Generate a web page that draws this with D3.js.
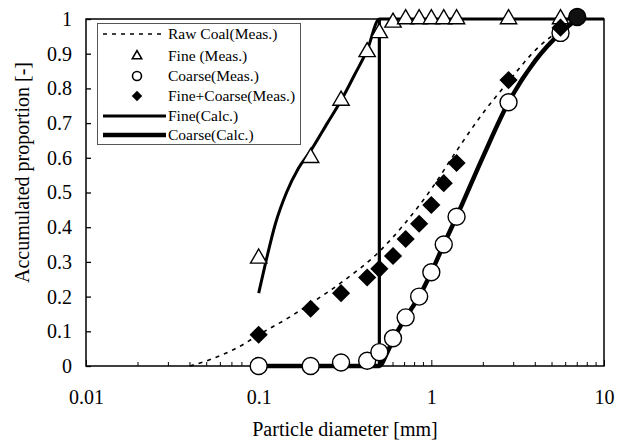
<!DOCTYPE html>
<html>
<head>
<meta charset="utf-8">
<script src="https://cdn.jsdelivr.net/npm/d3@7"></script>
<style>
  body { margin: 0; background: #fff; }
</style>
</head>
<body>
<svg id="chart" width="618" height="448"></svg>
<script>
// Measured and calculated size distributions, [diameter mm, proportion]
const rawCoal = [[0.04, 0.0], [0.05, 0.015], [0.06, 0.03], [0.08, 0.06], [0.1, 0.09], [0.15, 0.14],
  [0.2, 0.18], [0.3, 0.24], [0.5, 0.33], [0.7, 0.41], [1.0, 0.51], [1.4, 0.62], [2.0, 0.73],
  [2.8, 0.82], [4.0, 0.91], [5.6, 0.97]];
const fineMeas = [[0.1, 0.31], [0.2, 0.60], [0.3, 0.765], [0.425, 0.905], [0.5, 0.96], [0.6, 0.99],
  [0.71, 1.0], [0.85, 1.0], [1.0, 1.0], [1.18, 1.0], [1.4, 1.0], [2.8, 1.0], [5.6, 1.0]];
const coarseMeas = [[0.1, 0.0], [0.2, 0.0], [0.3, 0.01], [0.425, 0.015], [0.5, 0.04], [0.6, 0.08],
  [0.71, 0.14], [0.85, 0.2], [1.0, 0.27], [1.18, 0.35], [1.4, 0.43], [2.8, 0.76], [5.6, 0.96]];
const mixMeas = [[0.1, 0.09], [0.2, 0.165], [0.3, 0.21], [0.425, 0.255], [0.5, 0.28], [0.6, 0.317],
  [0.71, 0.366], [0.85, 0.41], [1.0, 0.464], [1.18, 0.527], [1.4, 0.585], [2.8, 0.824], [5.6, 0.975]];
const endPoint = [[7.0, 1.0]];
const fineCalc = [[0.1, 0.21], [0.11, 0.3], [0.125, 0.41], [0.145, 0.5], [0.17, 0.57], [0.2, 0.62],
  [0.25, 0.7], [0.3, 0.765], [0.36, 0.84], [0.425, 0.91], [0.5, 1.0], [10, 1.0]];
const cutLine = [[0.5, 0.0], [0.5, 1.0]];
const coarseCalc = [[0.1, 0.0], [0.5, 0.0], [0.55, 0.035], [0.6, 0.075], [0.71, 0.14], [0.85, 0.2],
  [1.0, 0.27], [1.18, 0.35], [1.4, 0.43], [2.0, 0.605], [2.8, 0.76], [4.0, 0.88], [5.6, 0.96], [7.0, 1.0]];

const xTicks = [0.01, 0.1, 1, 10];
const xTickLabels = ['0.01', '0.1', '1', '10'];
const yTicks = [0, 0.1, 0.2, 0.3, 0.4, 0.5, 0.6, 0.7, 0.8, 0.9, 1];
const legendLabels = ['Raw Coal(Meas.)', 'Fine (Meas.)', 'Coarse(Meas.)', 'Fine+Coarse(Meas.)', 'Fine(Calc.)', 'Coarse(Calc.)'];

const serif = '"Liberation Serif", "Times New Roman", serif';
const svg = d3.select('#chart').attr('font-family', serif);
const plotLeft = 86, plotRight = 604, plotTop = 19, plotBottom = 366;

const x = d3.scaleLog().domain([0.01, 10]).range([plotLeft, plotRight]);
const y = d3.scaleLinear().domain([0, 1]).range([plotBottom, plotTop]);

// minor ticks for the log axis
const minorTicks = [];
[0.01, 0.1, 1].forEach(d => { for (let k = 2; k <= 9; k++) minorTicks.push(d * k); });

// axes
const xAxis = svg.append('g')
  .attr('transform', `translate(0,${plotBottom})`)
  .call(d3.axisBottom(x).tickValues(xTicks).tickFormat((d, i) => xTickLabels[i]).tickSize(-6).tickPadding(24));
xAxis.attr('font-family', serif);
xAxis.select('.domain').remove();
xAxis.selectAll('text').attr('font-family', serif).attr('font-size', 20).attr('fill', '#000');
xAxis.selectAll('line').attr('stroke', '#000');

svg.append('g').selectAll('line').data(minorTicks).join('line')
  .attr('x1', d => x(d)).attr('x2', d => x(d))
  .attr('y1', plotBottom).attr('y2', plotBottom - 4)
  .attr('stroke', '#000');

const yAxis = svg.append('g')
  .attr('transform', `translate(${plotLeft},0)`)
  .call(d3.axisLeft(y).tickValues(yTicks).tickFormat(d => (d === 0 || d === 1) ? d : d.toFixed(1)).tickSize(-5).tickPadding(14));
yAxis.attr('font-family', serif);
yAxis.select('.domain').remove();
yAxis.selectAll('text').attr('font-family', serif).attr('font-size', 20).attr('fill', '#000');
yAxis.selectAll('line').attr('stroke', '#000').attr('stroke-width', 1.3);

// plot frame
svg.append('rect')
  .attr('x', plotLeft).attr('y', plotTop)
  .attr('width', plotRight - plotLeft).attr('height', plotBottom - plotTop)
  .attr('fill', 'none').attr('stroke', '#000').attr('stroke-width', 1.5);

// axis titles
svg.append('text')
  .attr('x', (plotLeft + plotRight) / 2).attr('y', 436)
  .attr('text-anchor', 'middle').attr('font-family', serif).attr('font-size', 20)
  .text('Particle diameter [mm]');
svg.append('text')
  .attr('transform', `translate(29,${(plotTop + plotBottom) / 2 - 20}) rotate(-90)`)
  .attr('text-anchor', 'middle').attr('font-family', serif).attr('font-size', 20)
  .text('Accumulated proportion  [-]');

// lines
const line = d3.line().x(d => x(d[0])).y(d => y(d[1])).curve(d3.curveMonotoneX);
const straight = d3.line().x(d => x(d[0])).y(d => y(d[1]));

svg.append('path').datum(rawCoal).attr('d', line)
  .attr('fill', 'none').attr('stroke', '#000').attr('stroke-width', 1.6).attr('stroke-dasharray', '4,5');
svg.append('path').datum(fineCalc).attr('d', line)
  .attr('fill', 'none').attr('stroke', '#000').attr('stroke-width', 3);
svg.append('path').datum(cutLine).attr('d', straight)
  .attr('fill', 'none').attr('stroke', '#000').attr('stroke-width', 3.2);
svg.append('path').datum(coarseCalc).attr('d', line)
  .attr('fill', 'none').attr('stroke', '#000').attr('stroke-width', 4.5);

// markers
const tri = d3.symbol(d3.symbolTriangle).size(115)();
const triSmall = d3.symbol(d3.symbolTriangle).size(38)();
const diamond = d3.symbol(d3.symbolSquare).size(165)();
const diamondSmall = d3.symbol(d3.symbolSquare).size(55)();

svg.append('g').selectAll('path').data(fineMeas).join('path')
  .attr('d', tri)
  .attr('transform', d => `translate(${x(d[0])},${y(d[1])})`)
  .attr('fill', '#fff').attr('stroke', '#000').attr('stroke-width', 1.4);

svg.append('g').selectAll('circle').data(coarseMeas).join('circle')
  .attr('cx', d => x(d[0])).attr('cy', d => y(d[1])).attr('r', 8.5)
  .attr('fill', '#fff').attr('stroke', '#000').attr('stroke-width', 1.4);

svg.append('g').selectAll('path').data(mixMeas).join('path')
  .attr('d', diamond)
  .attr('transform', d => `translate(${x(d[0])},${y(d[1])}) rotate(45)`)
  .attr('fill', '#000');

svg.append('g').selectAll('circle').data(endPoint).join('circle')
  .attr('cx', d => x(d[0])).attr('cy', d => y(d[1]) - 2).attr('r', 8.5)
  .attr('fill', '#111').attr('stroke', '#000').attr('stroke-width', 1.4);

// legend
const lg = svg.append('g');
lg.append('rect')
  .attr('x', 97.5).attr('y', 23.5).attr('width', 203).attr('height', 121)
  .attr('fill', '#fff').attr('stroke', '#555').attr('stroke-width', 1);
const rowY = [34, 56, 76, 96, 116, 135];
const symX = 137, lineX0 = 103, lineX1 = 166, textX = 168;

lg.selectAll('text').data(legendLabels).join('text')
  .attr('x', textX).attr('y', (d, i) => rowY[i])
  .attr('dy', '0.35em').attr('font-family', serif).attr('font-size', 15.5)
  .text(d => d);

lg.append('line').attr('x1', lineX0).attr('x2', lineX1).attr('y1', rowY[0]).attr('y2', rowY[0])
  .attr('stroke', '#000').attr('stroke-width', 1.6).attr('stroke-dasharray', '4,5');
lg.append('path').attr('d', triSmall).attr('transform', `translate(${symX},${rowY[1]})`)
  .attr('fill', '#fff').attr('stroke', '#000').attr('stroke-width', 1.6);
lg.append('circle').attr('cx', symX).attr('cy', rowY[2]).attr('r', 4.5)
  .attr('fill', '#fff').attr('stroke', '#000').attr('stroke-width', 1.6);
lg.append('path').attr('d', diamondSmall).attr('transform', `translate(${symX},${rowY[3]}) rotate(45)`)
  .attr('fill', '#000');
lg.append('line').attr('x1', lineX0).attr('x2', lineX1).attr('y1', rowY[4]).attr('y2', rowY[4])
  .attr('stroke', '#000').attr('stroke-width', 3);
lg.append('line').attr('x1', lineX0).attr('x2', lineX1).attr('y1', rowY[5]).attr('y2', rowY[5])
  .attr('stroke', '#000').attr('stroke-width', 4.5);
</script>
</body>
</html>
